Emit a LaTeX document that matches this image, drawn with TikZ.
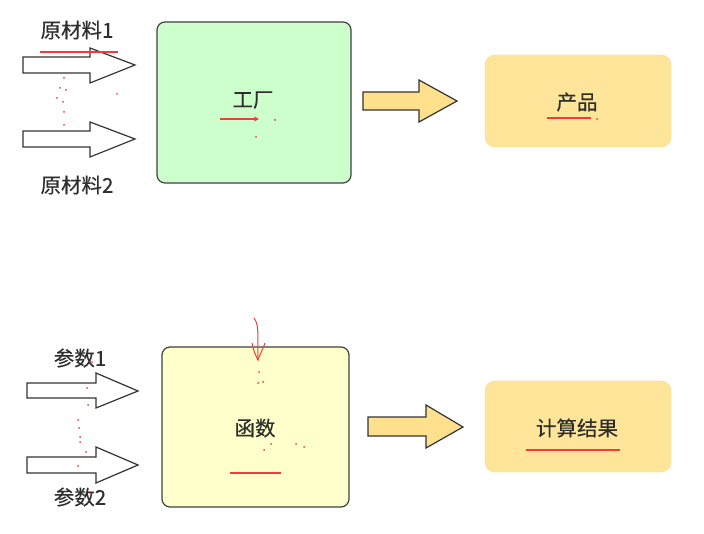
\documentclass[tikz,border=0pt]{standalone}
\usepackage{fontspec}
\usetikzlibrary{arrows.meta}
\setmainfont{Noto Sans CJK SC}[FakeBold=0.3]
\begin{document}
\begin{tikzpicture}[x=1pt,y=-1pt,
  lbl/.style={font=\fontsize{20.5}{21}\selectfont, text=black!82, inner sep=0pt},
  bigbox/.style={draw=black!75, line width=1.2pt, rounded corners=8pt},
  resbox/.style={fill=resfill, draw=resfill!85!orange, line width=0.4pt, rounded corners=10pt},
  whitearrow/.style={draw=black!80, line width=1.2pt, fill=white, line join=miter},
  yelarrow/.style={draw=black!80, line width=1.2pt, fill=arrfill, line join=miter},
  redmark/.style={draw=redmk, line width=1.8pt},
  reddot/.style={fill=redmk}
]
\definecolor{resfill}{HTML}{FFE599}
\definecolor{arrfill}{HTML}{FFE08C}
\definecolor{greenfill}{HTML}{CCFFCC}
\definecolor{yelfill}{HTML}{FFFFCC}
\definecolor{redmk}{HTML}{F23C3C}
\useasboundingbox (0,0) rectangle (704,534);

% ---------- top row ----------
\node[lbl] (m1) at (77,30) {原材料1};
\node[lbl] (m2) at (77,185) {原材料2};
\draw[whitearrow] (23,57) -- (90,57) -- (90,48) -- (135,65) -- (90,83) -- (90,73) -- (23,73) -- cycle;
\draw[whitearrow] (23,131) -- (90,131) -- (90,122) -- (135,139) -- (90,157) -- (90,147) -- (23,147) -- cycle;
\node[bigbox, fill=greenfill, minimum width=194pt, minimum height=161pt] (fac) at (254,102.5) {};
\node[lbl] (factxt) at (253,100) {工厂};
\draw[yelarrow] (363,92) -- (419,92) -- (419,80) -- (457,101) -- (419,122) -- (419,110) -- (363,110) -- cycle;
\node[resbox, minimum width=186pt, minimum height=92pt] (prod) at (578,101) {};
\node[lbl] (prodtxt) at (577,102) {产品};

% red annotations top
\draw[redmark] (40,52) -- (118,52);
\draw[redmark, line width=1.3pt, -{Stealth[length=5pt,width=5pt]}] (220,119) -- (259,119);
\draw[redmark] (547,118) -- (591,118);
\foreach \p in {(64,78),(60,88),(66,90),(57,98),(63,102),(64,112),(64,125),(117,94),(275,120),(256,137),(597,119)}
  \fill[reddot] \p circle (1pt);

% ---------- bottom row ----------
\node[lbl] (p1) at (80,358) {参数1};
\node[lbl] (p2) at (80,497) {参数2};
\draw[whitearrow] (27,383) -- (96,383) -- (96,373) -- (138,391) -- (96,408) -- (96,398) -- (27,398) -- cycle;
\draw[whitearrow] (27,457) -- (96,457) -- (96,447) -- (138,465) -- (96,483) -- (96,473) -- (27,473) -- cycle;
\node[bigbox, fill=yelfill, minimum width=187pt, minimum height=160pt] (fun) at (255.5,427) {};
\node[lbl] (funtxt) at (255,428) {函数};
\draw[yelarrow] (368,417) -- (426,417) -- (426,405) -- (463,427) -- (426,448) -- (426,436) -- (368,436) -- cycle;
\node[resbox, minimum width=186pt, minimum height=91pt] (res) at (578,426.5) {};
\node[lbl] (restxt) at (577,428) {计算结果};

% red annotations bottom
\draw[redmark] (230,473) -- (281,473);
\draw[redmark] (526,450) -- (620,450);
\coordinate (hs) at (254,318);
\coordinate (he) at (258,360);
\draw[redmark, line width=1pt] (hs) .. controls (260,326) and (257,338) .. (he);
\draw[redmark, line width=1pt] (252,343) .. controls (253,350) and (256,356) .. (he) .. controls (260,354) and (263,349) .. (265,343);
\foreach \p in {(259,372),(258,383),(263,382),(87,388),(88,405),(78,420),(79,428),(80,437),(80,442),(86,452),(78,466),(264,450),(271,444),(296,444),(304,447),(92,362),(91,494)}
  \fill[reddot] \p circle (1pt);
\end{tikzpicture}
\end{document}
